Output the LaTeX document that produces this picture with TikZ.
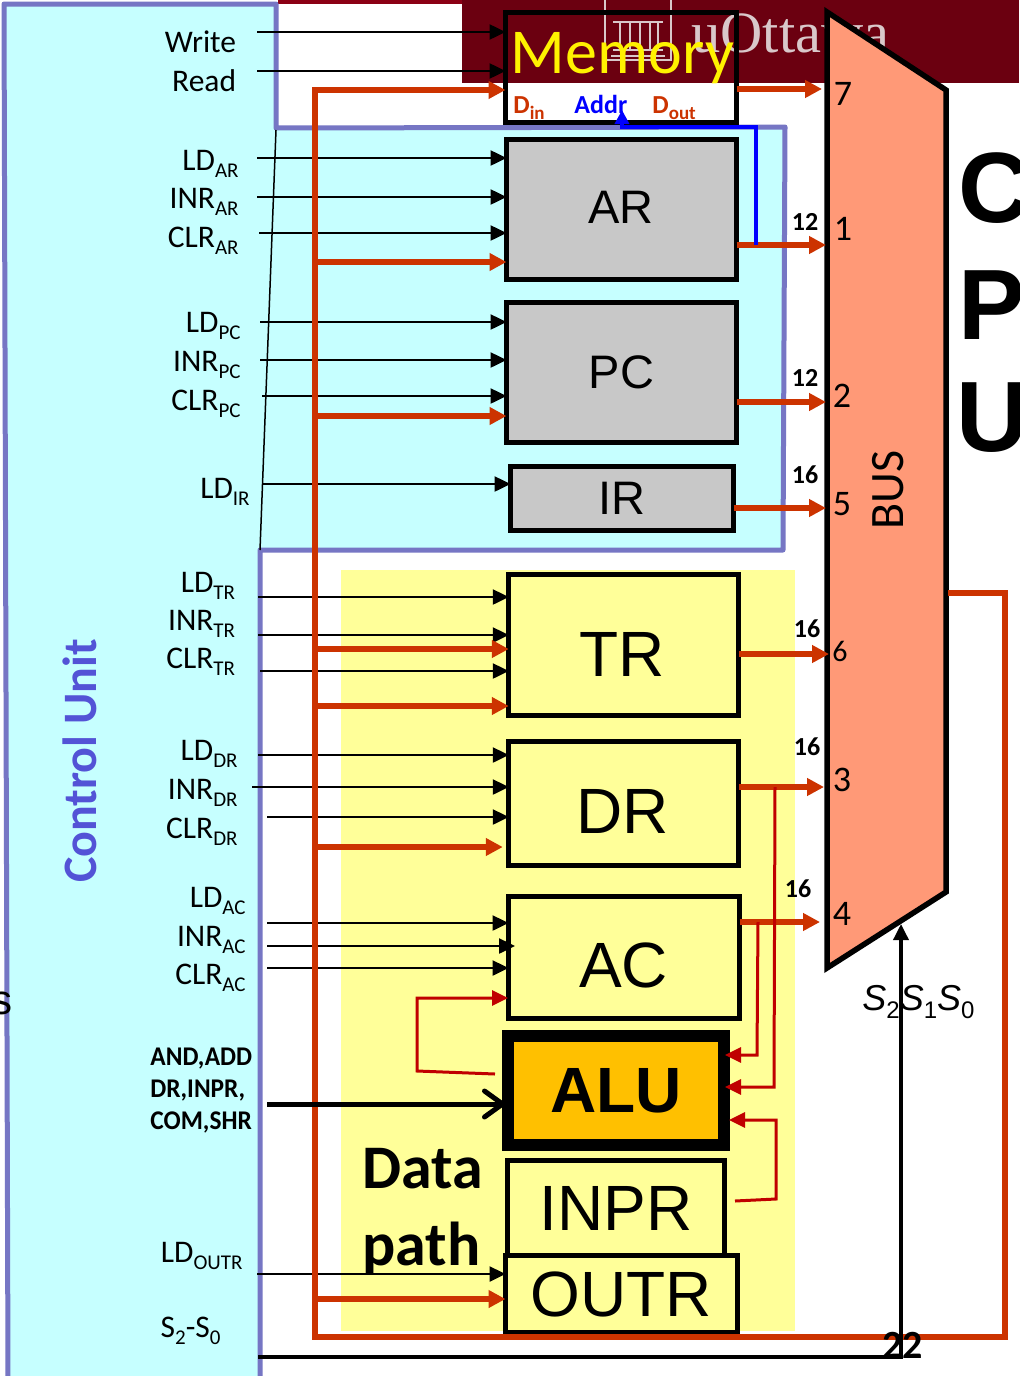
\documentclass[tikz,border=0pt]{standalone}
\usepackage{fontspec}
\setmainfont{Carlito}
\newfontfamily\arialfont{Liberation Sans}
\newfontfamily\timesfont{Liberation Serif}
\newfontfamily\condfont[FakeStretch=0.94]{Carlito}
\usetikzlibrary{arrows.meta}
\definecolor{cufill}{HTML}{C6FFFF}
\definecolor{cuedge}{HTML}{7676C4}
\definecolor{maroon}{HTML}{6B0010}
\definecolor{strip}{HTML}{8B0015}
\definecolor{logoline}{HTML}{D9C8CA}
\definecolor{wirered}{HTML}{CC3300}
\definecolor{looped}{HTML}{C00000}
\definecolor{busfill}{HTML}{FF9977}
\definecolor{reggray}{HTML}{C8C8C8}
\definecolor{regyellow}{HTML}{FFFF99}
\definecolor{aluorange}{HTML}{FFC000}
\newcommand{\sigsub}[1]{\raisebox{-3.5pt}{\fontsize{10.5}{12}\selectfont #1}}
\newcommand{\memsub}[1]{\raisebox{-3pt}{\fontsize{9.5}{11}\selectfont #1}}
\newcommand{\selsub}[1]{\raisebox{-4pt}{\fontsize{12}{15}\selectfont #1}}
\tikzset{
    regbox/.style={draw=black,line width=2.5pt,inner sep=0pt,outer sep=0pt,font=\arialfont\fontsize{23.5}{28}\selectfont},
    bigtext/.style={inner sep=0pt,font=\arialfont\fontsize{32}{38}\selectfont},
    ctrl/.style={line width=1.25pt,-{Triangle[length=8pt,width=7.5pt]}},
    wire/.style={wirered,line width=2.75pt,-{Triangle[length=8.5pt,width=8.5pt]}},
    feed/.style={looped,line width=1.5pt,-{Triangle[length=8pt,width=7.5pt]}},
    sigl/.style={anchor=base east,inner sep=0pt,font=\fontsize{15.75}{19}\selectfont},
    wnum/.style={inner sep=0pt,font=\bfseries\fontsize{13}{15}\selectfont},
    busn/.style={inner sep=0pt,font=\fontsize{18}{21}\selectfont},
    cpul/.style={inner sep=0pt,font=\arialfont\bfseries\fontsize{50}{58}\selectfont},
    memp/.style={anchor=base west,inner sep=0pt,font=\bfseries\fontsize{13}{15}\selectfont}
}
\begin{document}
\begin{tikzpicture}[x=0.5pt,y=-0.5pt]
        \clip (0,0) rectangle (1019,1376);
        % title band behind the figure
        \fill[white] (0,0) rectangle (1019,1376);
        \fill[strip] (278,0) rectangle (1019,4);
        \fill[maroon] (462,0) rectangle (1019,83);
        \draw[logoline,line width=1pt] (605,0) -- (605,60) -- (671,60) -- (671,0);
        \draw[logoline,line width=1pt] (613,22) -- (663,22) (613,50) -- (663,50) (611,56) -- (665,56);
        \draw[logoline,line width=1pt] (620,22) -- (620,50) (630,22) -- (630,50) (640,22) -- (640,50) (650,22) -- (650,50) (658,22) -- (658,50);
        \node[logoline,anchor=base west,inner sep=0pt,font=\timesfont\fontsize{29.25}{34}\selectfont] (logo) at (691,53) {uOttawa};
        \fill[regyellow] (341,570) rectangle (795,1331);

        % control unit outline
        \draw[cuedge,fill=cufill,line width=2.5pt,line join=round] (4,4) -- (276,4) -- (276,128) -- (785,127) -- (783,550) -- (260,550) -- (260,1380) -- (8,1380) -- cycle;
        \draw[line width=0.75pt] (276,130) -- (260,550);
        \node[cuedge!70!blue,rotate=90,inner sep=0pt,font=\bfseries\fontsize{24}{28}\selectfont] (cu) at (80,761) {Control Unit};
        \node[inner sep=0pt,font=\arialfont\fontsize{21}{25}\selectfont] (cut) at (1.5,1003) {s};

        % registers
        \node[regbox,minimum width=115.5pt,minimum height=55pt] (mem) at (621,67.5) {};
        \node[regbox,fill=reggray,minimum width=115pt,minimum height=70pt] (ar) at (621.5,209.5) {};
        \node[regbox,fill=reggray,minimum width=115pt,minimum height=70pt] (pc) at (621.5,372.5) {PC};
        \node[regbox,fill=reggray,minimum width=111.5pt,minimum height=32pt] (ir) at (622,498.5) {IR};
        \node[regbox,fill=regyellow,minimum width=115pt,minimum height=70.5pt] (tr) at (623.75,645) {};
        \node[regbox,fill=regyellow,minimum width=115pt,minimum height=62pt] (dr) at (623.75,803.5) {};
        \node[regbox,fill=regyellow,minimum width=115.5pt,minimum height=61pt] (ac) at (624,957.5) {};
        \node[regbox,fill=aluorange,line width=6pt,minimum width=108pt,minimum height=54.5pt,font=\arialfont\bfseries\fontsize{32}{38}\selectfont] (alu) at (616,1090.5) {ALU};
        \node[regbox,fill=regyellow,minimum width=108.5pt,minimum height=47.5pt,font=\arialfont\fontsize{32}{38}\selectfont] (inpr) at (616,1208) {INPR};
        \node[regbox,fill=regyellow,minimum width=116pt,minimum height=38.5pt,font=\arialfont\fontsize{32}{38}\selectfont] (outr) at (621.5,1294) {OUTR};
        \node[inner sep=0pt,font=\arialfont\fontsize{23.5}{28}\selectfont] (art) at (621,207) {AR};
        \node[bigtext] (trt) at (622,654) {TR};
        \node[bigtext] (drt) at (623,811) {DR};
        \node[bigtext] (act) at (623.5,965) {AC};

        % memory labels
        \node[yellow,inner sep=0pt,anchor=base,font=\fontsize{32}{38}\selectfont] (memt) at (622.5,73) {Memory};
        \node[memp,wirered] (din) at (513,113) {D\memsub{in}};
        \node[memp,blue] (addr) at (574,113) {Addr};
        \node[memp,wirered] (dout) at (652,113) {D\memsub{out}};

        % signal names
        \node[sigl] (write) at (236.5,52) {Write};
        \node[sigl] (read) at (236.5,91) {Read};
        \node[sigl] (ldar) at (239,170) {LD\sigsub{AR}};
        \node[sigl] (inrar) at (239,208) {INR\sigsub{AR}};
        \node[sigl] (clrar) at (239,247) {CLR\sigsub{AR}};
        \node[sigl] (ldpc) at (241,332) {LD\sigsub{PC}};
        \node[sigl] (inrpc) at (241,371) {INR\sigsub{PC}};
        \node[sigl] (clrpc) at (241,410) {CLR\sigsub{PC}};
        \node[sigl] (ldir) at (250,498) {LD\sigsub{IR}};
        \node[sigl] (ldtr) at (235.5,592) {LD\sigsub{TR}};
        \node[sigl] (inrtr) at (235.5,630) {INR\sigsub{TR}};
        \node[sigl] (clrtr) at (235.5,668) {CLR\sigsub{TR}};
        \node[sigl] (lddr) at (238,760) {LD\sigsub{DR}};
        \node[sigl] (inrdr) at (238,799) {INR\sigsub{DR}};
        \node[sigl] (clrdr) at (238,838) {CLR\sigsub{DR}};
        \node[sigl] (ldac) at (246,907) {LD\sigsub{AC}};
        \node[sigl] (inrac) at (246,946) {INR\sigsub{AC}};
        \node[sigl] (clrac) at (246,984) {CLR\sigsub{AC}};
        \node[sigl] (ldoutr) at (243,1262) {LD\sigsub{OUTR}};
        \node[sigl] (selname) at (221,1337) {S\sigsub{2}-S\sigsub{0}};
        \node[anchor=north west,align=left,inner sep=0pt,font=\condfont\bfseries\fontsize{13.5}{16}\selectfont] (aluop) at (150,1048) {AND,ADD\\DR,INPR,\\COM,SHR};

        % free ends of the control lines
        \coordinate (swrite) at (257,32);
        \coordinate (sread) at (257,71);
        \coordinate (sldar) at (257,158);
        \coordinate (sinrar) at (257,197);
        \coordinate (sclrar) at (259,233);
        \coordinate (sldpc) at (260,322);
        \coordinate (sinrpc) at (260,360);
        \coordinate (sclrpc) at (262,396);
        \coordinate (sldir) at (263,484);
        \coordinate (sldtr) at (258,597);
        \coordinate (sinrtr) at (258,635);
        \coordinate (sclrtr) at (260,671);
        \coordinate (slddr) at (258,755);
        \coordinate (sinrdr) at (252,787);
        \coordinate (sclrdr) at (267,817);
        \coordinate (sldac) at (267,923);
        \coordinate (sinrac) at (267,946);
        \coordinate (sclrac) at (267,968);
        \coordinate (sldoutr) at (257,1274);
        \coordinate (saluop) at (267,1104);
        \coordinate (ssel) at (258,1357);
        \coordinate (selin) at (901,924);
        \coordinate (selcorner) at (901,1357);

        \draw[ctrl] (swrite) -- (swrite -| mem.west);
        \draw[ctrl] (sread) -- (sread -| mem.west);
        \draw[ctrl] (sldar) -- (sldar -| ar.west);
        \draw[ctrl] (sinrar) -- (sinrar -| ar.west);
        \draw[ctrl] (sclrar) -- (sclrar -| ar.west);
        \draw[ctrl] (sldpc) -- (sldpc -| pc.west);
        \draw[ctrl] (sinrpc) -- (sinrpc -| pc.west);
        \draw[ctrl] (sclrpc) -- (sclrpc -| pc.west);
        \draw[ctrl] (sldir) -- (sldir -| ir.west);
        \draw[ctrl] (sldtr) -- (sldtr -| tr.west);
        \draw[ctrl] (sinrtr) -- (sinrtr -| tr.west);
        \draw[ctrl] (sclrtr) -- (sclrtr -| tr.west);
        \draw[ctrl] (slddr) -- (slddr -| dr.west);
        \draw[ctrl] (sinrdr) -- (sinrdr -| dr.west);
        \draw[ctrl] (sclrdr) -- (sclrdr -| dr.west);
        \draw[ctrl] (sldac) -- (sldac -| ac.west);
        \draw[ctrl] (sinrac) -- ([xshift=3.25pt]sinrac -| ac.west);
        \draw[ctrl] (sclrac) -- (sclrac -| ac.west);
        \draw[ctrl] (sldoutr) -- (sldoutr -| outr.west);

        % bus and its inputs
        \draw[fill=busfill,line width=2.75pt,line join=miter] (827,12) -- (946,90) -- (946,892) -- (827,968) -- cycle;
        \coordinate (in7) at (822,89);
        \coordinate (in1) at (826,245);
        \coordinate (in2) at (826,402);
        \coordinate (in5) at (826,508);
        \coordinate (in6) at (829,654);
        \coordinate (in3) at (824,787);
        \coordinate (in4) at (820,922);
        \draw[wire] (mem.east |- in7) -- (in7);
        \draw[wire] (ar.east |- in1) -- (in1);
        \draw[wire] (pc.east |- in2) -- (in2);
        \draw[wire] (ir.east |- in5) -- (in5);
        \draw[wire] (tr.east |- in6) -- (in6);
        \draw[wire] (dr.east |- in3) -- (in3);
        \draw[wire] (ac.east |- in4) -- (in4);

        % common bus back to the registers
        \coordinate (busout) at (948,593);
        \coordinate (btmright) at (1005,1337);
        \coordinate (btmleft) at (315,1337);
        \coordinate (topleft) at (315,90);
        \draw[wire] (busout) -| (btmright) -- (btmleft) -- (topleft) -- (topleft -| mem.west);
        \coordinate (lar) at (315,262);
        \coordinate (lpc) at (315,416);
        \coordinate (ltr) at (315,649);
        \coordinate (ltrb) at (315,706);
        \coordinate (ldr) at (315,847);
        \coordinate (loutr) at (315,1299);
        \draw[wire] (lar) -- (lar -| ar.west);
        \draw[wire] (lpc) -- (lpc -| pc.west);
        \draw[wire] (ltr) -- (ltr -| tr.west);
        \draw[wire] (ltrb) -- (ltrb -| tr.west);
        \draw[wire] (ldr) -- ([xshift=-3pt]ldr -| dr.west);
        \draw[wire] (loutr) -- (loutr -| outr.west);

        % address path
        \draw[blue,line width=1.75pt,-{Triangle[length=7pt,width=7pt]}] (756,245) -- (756,127) -- (622,127) -- (622,110);

        % ALU paths
        \coordinate (actap) at (758,922);
        \coordinate (drtap) at (775,787);
        \coordinate (alua) at (725,1055);
        \coordinate (alub) at (725,1087);
        \coordinate (aluc) at (729,1120);
        \coordinate (inprout) at (735,1201);
        \coordinate (aluout) at (495,1074);
        \coordinate (acin) at (508,998);
        \draw[feed] (actap) -- (757,1055) -- (alua);
        \draw[feed] (drtap) -- (774,1087) -- (alub);
        \draw[feed] (inprout) -- (776,1199) -- (776,1120) -- (aluc);
        \draw[feed] (aluout) -- (417,1071) -- (417,998) -- (acin);
        \draw[line width=2.5pt,-{Straight Barb[length=9pt,width=13pt,round]}] (saluop) -- ([xshift=-1.5pt]saluop -| alu.west);
        \draw[line width=1.75pt,-{Triangle[length=8pt,width=7.5pt]}] (ssel) -- (selcorner) -- (selin);

        % bus text
        \node[wnum] (n12a) at (805,222) {12};
        \node[wnum] (n12b) at (805,378) {12};
        \node[wnum] (n16a) at (805,475) {16};
        \node[wnum] (n16b) at (807,629) {16};
        \node[wnum] (n16c) at (807,747) {16};
        \node[wnum] (n16d) at (798,889) {16};
        \node[busn] (b7) at (843,94) {7};
        \node[busn] (b1) at (843,229) {1};
        \node[busn] (b2) at (842,396) {2};
        \node[busn] (b5) at (842,504) {5};
        \node[busn,font=\fontsize{15}{18}\selectfont] (b6) at (840,651) {6};
        \node[busn] (b3) at (842,780) {3};
        \node[busn] (b4) at (842,914) {4};
        \node[rotate=90,inner sep=0pt,font=\fontsize{24}{28}\selectfont] (bus) at (888,490) {BUS};
        \node[cpul] (cpuc) at (995,188) {C};
        \node[cpul] (cpup) at (992,305) {P};
        \node[cpul] (cpuu) at (993,418) {U};
        \node[anchor=base west,inner sep=0pt,font=\arialfont\fontsize{18}{22}\selectfont] (sel) at (862,1010) {\textit{S}\selsub{2}\textit{S}\selsub{1}\textit{S}\selsub{0}};
        \node[inner sep=0pt,font=\bfseries\fontsize{20}{24}\selectfont] (n22) at (902.5,1345) {22};

        % data path caption
        \node[anchor=base west,inner sep=0pt,font=\bfseries\fontsize{31}{36}\selectfont] (datat) at (362,1188) {Data};
        \node[anchor=base west,inner sep=0pt,font=\bfseries\fontsize{31}{36}\selectfont] (patht) at (362,1265) {path};
    \end{tikzpicture}
\end{document}
